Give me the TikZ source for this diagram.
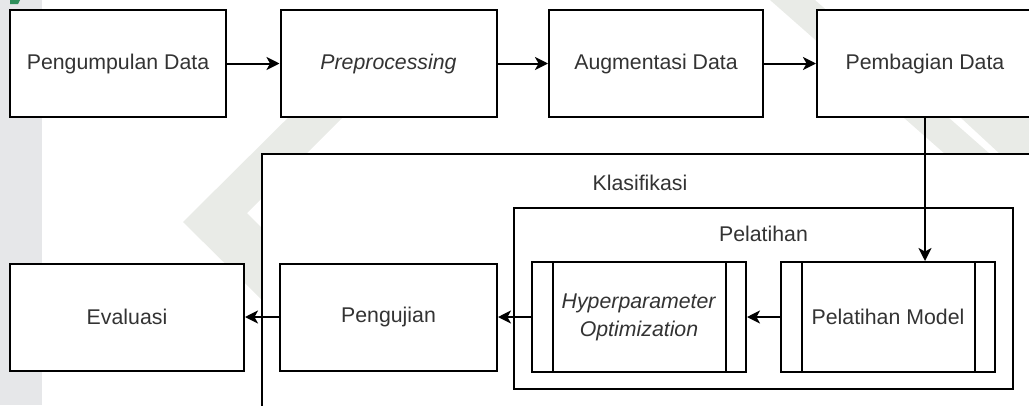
\documentclass[tikz,border=0pt]{standalone}
\usepackage{fontspec}
\setmainfont{Liberation Sans}
\usetikzlibrary{arrows.meta}
\definecolor{txt}{HTML}{333333}
\definecolor{wmgray}{HTML}{E9EBE7}
\definecolor{wmstrip}{HTML}{E6E7E9}
\definecolor{wmyellow}{HTML}{FFF5D2}
\definecolor{wmgreen}{HTML}{2F8F5B}
\tikzset{
  lw/.style={line width=2pt},
  stepbox/.style={lw, draw=black, fill=white, inner sep=0pt, text=txt,
    font=\fontsize{21.3}{28}\selectfont, align=center,
    minimum width=216pt, minimum height=107pt},
  procbox/.style={stepbox, minimum width=214pt, minimum height=110pt},
  groupbox/.style={lw, draw=black, fill=white, inner sep=0pt},
  grouplabel/.style={text=txt, font=\fontsize{21.3}{28}\selectfont, inner sep=0pt},
  arr/.style={lw, -{Stealth[length=13pt, width=13pt, inset=3.5pt]}},
}
\begin{document}
\begin{tikzpicture}[x=1pt, y=-1pt]
\useasboundingbox (0,0) rectangle (1029,405);
\clip (0,0) rectangle (1029,405);

% faint page background marks
\fill[wmstrip] (0,0) rectangle (42,405);
\fill[wmgreen] (10,0) -- (20,0) -- (18,4) -- (10,4) -- cycle;
\fill[wmgray] (183,222) -- (318,88) -- (372,88) -- (247,213) -- (262,228)
  -- (262,300) -- cycle;
\fill[wmgray] (770,0) -- (815,0) -- (990,154) -- (945,154) -- cycle;
\fill[wmgray] (960,117) -- (1029,117) -- (1029,154) -- (1000,154) -- cycle;
\draw[wmyellow, line width=7pt] (580,160) arc[start angle=180, end angle=0, radius=60];
\draw[wmyellow, line width=7pt] (555,160) arc[start angle=180, end angle=0, radius=85];

% pipeline: top row
\node[stepbox] (collect) at (118,63.5) {Pengumpulan Data};
\node[stepbox] (prep) at (388.5,63.5) {\textit{Preprocessing}};
\node[stepbox, minimum width=214pt] (augment) at (656,63.5) {Augmentasi Data};
\node[stepbox] (split) at (925,63.5) {Pembagian Data};

% classification group
\node[groupbox, minimum width=778pt, minimum height=266pt] (classify) at (651,287) {};
\node[grouplabel] (classifyLabel) at (640,183) {Klasifikasi};

% training group
\node[groupbox, minimum width=499pt, minimum height=181pt] (train) at (763.5,298.5) {};
\node[grouplabel] (trainLabel) at (763.5,234) {Pelatihan};

% predefined-process boxes
\node[procbox] (hyper) at (639,317) {\textit{Hyperparameter}\\\textit{Optimization}};
\node[procbox] (model) at (888,317) {Pelatihan Model};
\foreach \n in {hyper, model} {
  \draw[lw] ([xshift=21.5pt]\n.north west) -- ([xshift=21.5pt]\n.south west);
  \draw[lw] ([xshift=-21.5pt]\n.north east) -- ([xshift=-21.5pt]\n.south east);
}

% bottom row
\node[stepbox, minimum width=217pt] (test) at (388.5,317) {Pengujian};
\node[stepbox, minimum width=234pt] (eval) at (127,317) {Evaluasi};

% connectors
\draw[arr] (collect) -- (prep);
\draw[arr] (prep) -- (augment);
\draw[arr] (augment) -- (split);
\draw[arr] (split.south) -- (split.south |- model.north);
\draw[arr] (model) -- (hyper);
\draw[arr] (hyper) -- (test);
\draw[arr] (test) -- (eval);
\end{tikzpicture}
\end{document}
